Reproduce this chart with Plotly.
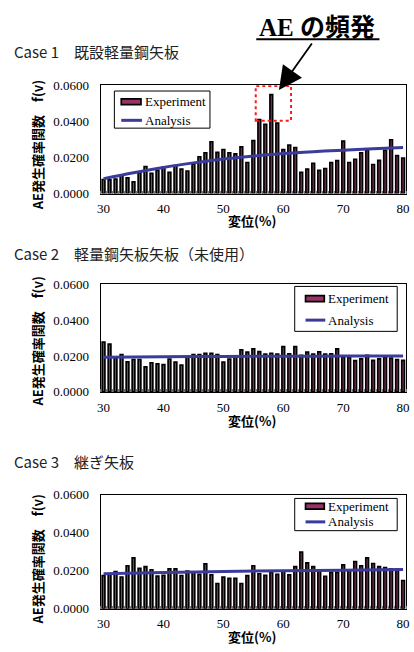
import plotly.graph_objects as go

# Displacement (%) categories shared by all three cases
disp = list(range(30, 81))
x_ticks = [30, 40, 50, 60, 70, 80]
y_ticks = [0.0, 0.02, 0.04, 0.06]

# Case 1: existing lightweight steel sheet pile (measured AE probability)
exp_case1 = [0.0078, 0.0076, 0.0080, 0.0103, 0.0087, 0.0065, 0.0114, 0.0150, 0.0112, 0.0128,
             0.0146, 0.0117, 0.0155, 0.0136, 0.0125, 0.0163, 0.0204, 0.0226, 0.0287, 0.0228,
             0.0244, 0.0226, 0.0220, 0.0258, 0.0172, 0.0293, 0.0410, 0.0383, 0.0548, 0.0390,
             0.0244, 0.0269, 0.0255, 0.0117, 0.0136, 0.0168, 0.0128, 0.0139, 0.0172, 0.0183,
             0.0290, 0.0172, 0.0190, 0.0226, 0.0240, 0.0161, 0.0184, 0.0240, 0.0298, 0.0210,
             0.0197]
# Case 2: unused lightweight steel sheet pile
exp_case2 = [0.0278, 0.0267, 0.0191, 0.0209, 0.0168, 0.0181, 0.0181, 0.0140, 0.0163, 0.0157,
             0.0153, 0.0183, 0.0166, 0.0150, 0.0196, 0.0209, 0.0209, 0.0215, 0.0215, 0.0209,
             0.0166, 0.0183, 0.0198, 0.0235, 0.0222, 0.0240, 0.0225, 0.0211, 0.0216, 0.0211,
             0.0253, 0.0213, 0.0253, 0.0204, 0.0222, 0.0211, 0.0224, 0.0211, 0.0213, 0.0240,
             0.0195, 0.0193, 0.0175, 0.0185, 0.0204, 0.0176, 0.0185, 0.0195, 0.0189, 0.0180,
             0.0176]
# Case 3: spliced sheet pile
exp_case3 = [0.0174, 0.0181, 0.0195, 0.0167, 0.0226, 0.0267, 0.0212, 0.0221, 0.0205, 0.0172,
             0.0176, 0.0210, 0.0210, 0.0174, 0.0198, 0.0193, 0.0181, 0.0236, 0.0179, 0.0133,
             0.0166, 0.0160, 0.0160, 0.0133, 0.0174, 0.0226, 0.0184, 0.0176, 0.0193, 0.0181,
             0.0200, 0.0179, 0.0221, 0.0298, 0.0241, 0.0221, 0.0198, 0.0171, 0.0191, 0.0191,
             0.0231, 0.0203, 0.0248, 0.0226, 0.0267, 0.0238, 0.0221, 0.0216, 0.0210, 0.0209,
             0.0148]

# Analysis curves
ana_x1 = [30, 35, 40, 45, 50, 55, 60, 65, 70, 75, 80]
ana_case1 = [0.0082, 0.0115, 0.0145, 0.0170, 0.0192, 0.0208, 0.0222, 0.0232, 0.0240, 0.0248, 0.0255]
ana_x23 = [30, 40, 50, 60, 70, 80]
ana_case2 = [0.0193, 0.0196, 0.0198, 0.0199, 0.0200, 0.0201]
ana_case3 = [0.0184, 0.0191, 0.0196, 0.0200, 0.0203, 0.0206]

titles = ["Case 1\u3000既設軽量鋼矢板", "Case 2\u3000軽量鋼矢板矢板（未使用）", "Case 3\u3000継ぎ矢板"]
y_title = "AE発生確率関数\u3000f(v)"
x_title = "変位(%)"
legend_names = ["Experiment", "Analysis"]

W, H = 414, 652


def px(x):
    return x / W


def py(y):
    return 1 - y / H


BAR_COLOR = "#993366"
LINE_COLOR = "#3B3B9C"
SERIF = "Liberation Serif, Times New Roman, serif"
JP = "Noto Sans CJK JP"

# panel frames in pixels: (top, bottom)
panels = [(80, 191), (284, 394), (499, 616)]
left, right = 99, 409

series = [
    (exp_case1, ana_x1, ana_case1),
    (exp_case2, ana_x23, ana_case2),
    (exp_case3, ana_x23, ana_case3),
]

# legend boxes in pixels: box (x0, y0, x1, y1), symbol x-span, row centres
legend_boxes = [
    dict(box=(113, 86, 210, 124), sym=(120, 140), rows=(97, 116), text_x=142),
    dict(box=(296, 286, 400, 332), sym=(307, 326), rows=(298.5, 320.5), text_x=328),
    dict(box=(296, 503, 400, 536), sym=(307, 326), rows=(511, 527), text_x=328),
]

fig = go.Figure()
layout = dict(
    width=W, height=H,
    margin=dict(l=0, r=0, t=0, b=0),
    paper_bgcolor="white", plot_bgcolor="white",
    bargap=0.55,
    showlegend=False,
)

annotations = []
shapes = []

for i, ((top, bot), (exp_vals, ax_vals, an_vals)) in enumerate(zip(panels, series)):
    n = "" if i == 0 else str(i + 1)
    xa, ya = "x" + n, "y" + n
    fig.add_trace(go.Bar(
        x=disp, y=exp_vals, name=legend_names[0], xaxis=xa, yaxis=ya,
        marker=dict(color=BAR_COLOR, line=dict(color="black", width=1.7)),
    ))
    fig.add_trace(go.Scatter(
        x=ax_vals, y=an_vals, name=legend_names[1], mode="lines", xaxis=xa, yaxis=ya,
        line=dict(color=LINE_COLOR, width=3, shape="spline"),
    ))
    layout["xaxis" + n] = dict(
        domain=[px(left), px(right)], anchor=ya, range=[29.5, 80.5],
        tickmode="array", tickvals=x_ticks, ticks="", showgrid=False, zeroline=False,
        showline=True, linecolor="black", linewidth=1, mirror=True,
        tickfont=dict(family=SERIF, size=13, color="black"),
        ticklabelstandoff=3,
        minor=dict(tick0=29.5, dtick=1, ticks="inside", ticklen=3, tickcolor="#777777"),
    )
    layout["yaxis" + n] = dict(
        domain=[py(bot), py(top)], anchor=xa, range=[0, 0.06],
        tickmode="array", tickvals=y_ticks, tickformat=".4f", ticks="",
        showgrid=False, zeroline=False,
        showline=True, linecolor="black", linewidth=1, mirror=True,
        tickfont=dict(family=SERIF, size=13, color="black"),
        ticklabelstandoff=8,
    )

    # legend box with a bar swatch and a line swatch
    lb = legend_boxes[i]
    bx0, by0, bx1, by1 = lb["box"]
    sx0, sx1 = lb["sym"]
    r0, r1 = lb["rows"]
    shapes.append(dict(type="rect", xref="paper", yref="paper",
                       x0=px(bx0), x1=px(bx1), y0=py(by1), y1=py(by0),
                       fillcolor="white", line=dict(color="black", width=1), layer="above"))
    shapes.append(dict(type="rect", xref="paper", yref="paper",
                       x0=px(sx0), x1=px(sx1), y0=py(r0 + 3), y1=py(r0 - 3),
                       fillcolor=BAR_COLOR, line=dict(color="black", width=1.7), layer="above"))
    shapes.append(dict(type="line", xref="paper", yref="paper",
                       x0=px(sx0), x1=px(sx1 + 1), y0=py(r1), y1=py(r1),
                       line=dict(color=LINE_COLOR, width=3), layer="above"))
    for name, ry in zip(legend_names, (r0, r1)):
        annotations.append(dict(
            x=px(lb["text_x"]), y=py(ry), xref="paper", yref="paper",
            xanchor="left", yanchor="middle", text=name, showarrow=False,
            font=dict(family=SERIF, size=13, color="black"),
        ))

# panel headings
for (cy, text) in zip([46, 252, 465], titles):
    annotations.append(dict(
        x=px(9), y=py(cy), xref="paper", yref="paper", xanchor="left", yanchor="middle",
        text=text, showarrow=False, font=dict(family=JP, size=15, color="#222222"),
    ))
# axis titles
for cy in [141, 342, 565]:
    annotations.append(dict(
        x=px(35), y=py(cy), xref="paper", yref="paper", xanchor="center", yanchor="middle",
        text="<b>" + y_title + "</b>", textangle=-90, showarrow=False,
        font=dict(family=JP, size=13, color="black"),
    ))
for cy in [219, 423, 644]:
    annotations.append(dict(
        x=px(253), y=py(cy), xref="paper", yref="paper", xanchor="center", yanchor="middle",
        text="<b>" + x_title + "</b>", showarrow=False,
        font=dict(family=JP, size=13, color="black"),
    ))

# callout for the burst of AE events
annotations.append(dict(
    x=px(319), y=py(21), xref="paper", yref="paper", xanchor="center", yanchor="middle",
    text="<b>AE の頻発</b>", showarrow=False,
    font=dict(family=SERIF + ", " + JP, size=25, color="black"),
))
shapes.append(dict(type="line", xref="paper", yref="paper",
                   x0=px(257), x1=px(382), y0=py(33), y1=py(33),
                   line=dict(color="black", width=2)))
annotations.append(dict(
    x=px(280), y=py(85), xref="paper", yref="paper", text="", showarrow=True,
    ax=34, ay=-48, arrowhead=2, arrowsize=2.6, arrowwidth=1.8, arrowcolor="black",
))
shapes.append(dict(type="rect", xref="x", yref="y", x0=55.4, x1=61.3, y0=0.0403, y1=0.0596,
                   line=dict(color="#FF1A1A", width=2, dash="dot")))

layout["annotations"] = annotations
layout["shapes"] = shapes
fig.update_layout(**layout)
fig.write_html("out.html")
